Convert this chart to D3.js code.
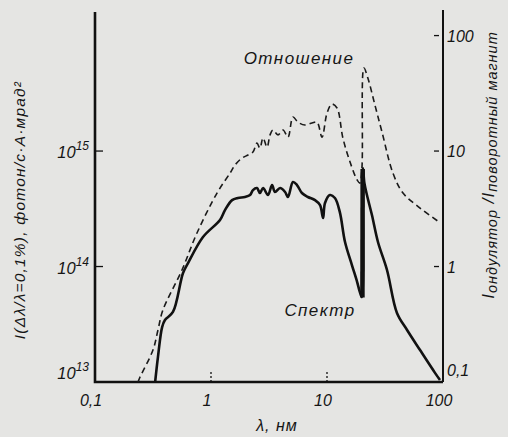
<!DOCTYPE html>
<meta charset="utf-8">
<style>
body { margin: 0; background: #e5e5e3; }
svg { display: block; }
text { font-family: "Liberation Sans", Arial, sans-serif; font-style: italic; fill: #151515; }
.frame { stroke: #111; fill: none; }
</style>
<body>
<div id="chart"></div>
<script src="https://cdn.jsdelivr.net/npm/d3@7"></script>
<script>

// spectrum (left axis, photons / s·A·mrad^2)
var specLam = [0.330, 0.349, 0.379, 0.401, 0.470, 0.574, 0.634, 0.853, 1.196, 1.32, 1.52, 1.71, 1.96, 2.17, 2.30, 2.49, 2.64, 2.81, 3.10, 3.36, 3.56, 3.94, 4.35, 4.61, 5.09, 5.51, 6.08, 6.85, 7.88, 8.71, 9.25, 9.61, 10.6, 11.7, 12.9, 14.3, 16.4, 18.2, 19.2, 20.0, 20.4, 21.0, 22.1, 24.4, 27.5, 32.9, 40.1, 49.0, 63.4, 85.3, 94.2];
var specVal = [1.0e13, 1.65e13, 2.99e13, 3.44e13, 4.04e13, 8.79e13, 1.07e14, 1.80e14, 2.53e14, 3.08e14, 3.76e14, 3.92e14, 4.0e14, 4.16e14, 4.59e14, 4.78e14, 4.33e14, 4.78e14, 4.16e14, 5.08e14, 4.42e14, 4.78e14, 4.42e14, 4.0e14, 5.39e14, 5.08e14, 4.33e14, 4.0e14, 3.76e14, 3.40e14, 2.63e14, 3.55e14, 4.16e14, 3.92e14, 2.96e14, 1.63e14, 1.03e14, 7.34e13, 6.01e13, 5.44e13, 7.13e14, 5.3e14, 4.16e14, 2.79e14, 1.63e14, 9.33e13, 3.96e13, 2.82e13, 1.89e13, 1.20e13, 1.04e13];

// narrow line near 20 nm
var lineLam = [20.2, 20.3];
var lineVal = [5.4e13, 7.0e14];

// ratio undulator / bending magnet (right axis)
var ratioLam = [0.235, 0.244, 0.316, 0.349, 0.385, 0.562, 0.757, 1.127, 1.46, 1.61, 1.85, 2.08, 2.30, 2.49, 2.64, 2.81, 3.04, 3.23, 3.42, 3.78, 4.18, 4.61, 5.09, 5.62, 6.46, 7.43, 8.20, 9.06, 10.0, 11.0, 12.2, 13.7, 15.8, 18.2, 19.2, 20.0, 20.8, 22.5, 25.9, 29.8, 37.0, 45.2, 63.4, 94.2];
var ratioVal = [0.100, 0.110, 0.189, 0.282, 0.420, 0.933, 1.95, 4.33, 6.45, 7.57, 8.69, 9.23, 9.80, 11.7, 10.6, 13.0, 10.8, 13.8, 15.2, 13.8, 15.2, 13.2, 19.7, 17.8, 16.8, 17.5, 17.8, 13.2, 21.3, 25.5, 23.6, 13.0, 8.03, 5.61, 5.28, 7.13, 52.3, 42.9, 25.0, 14.6, 6.45, 4.33, 3.21, 2.4];

var xTicks = [0.1, 1, 10, 100];
var xTickLabels = ["0,1", "1", "10", "100"];
var leftTicks = [1e13, 1e14, 1e15];
var leftTickExp = ["13", "14", "15"];
var rightTicks = [0.1, 1, 10, 100];
var rightTickLabels = ["0,1", "1", "10", "100"];

var width = 508, height = 437;
var x0 = 95, x1 = 443, yb = 382, yt = 12;

var x = d3.scaleLog().domain([0.1, 100]).range([x0, x1]);
var yL = d3.scaleLog().domain([1e13, 1.6e16]).range([yb, yt]);
var yR = d3.scaleLog().domain([0.1, 160]).range([yb, yt]);

var svg = d3.select("#chart").append("svg")
  .attr("width", width)
  .attr("height", height);

// frame: left, bottom, right axes
svg.append("path").attr("class", "frame")
  .attr("stroke-width", 2.6)
  .attr("d", "M" + x0 + "," + yt + "V" + yb + "H" + x1);
svg.append("path").attr("class", "frame")
  .attr("stroke-width", 2)
  .attr("d", "M" + x1 + "," + (yt - 2) + "V" + yb);

// left ticks (inward)
leftTicks.forEach(function(v, i) {
  if (i > 0) {
    svg.append("line").attr("class", "frame").attr("stroke-width", 1.3)
      .attr("x1", x0).attr("x2", x0 + 8).attr("y1", yL(v)).attr("y2", yL(v));
  }
  var t = svg.append("text")
    .attr("x", 89).attr("y", (i == 0 ? yL(v) - 10 : yL(v)) + 7)
    .attr("text-anchor", "end").attr("font-size", 16.5);
  t.append("tspan").text("10");
  t.append("tspan").attr("dy", -8).attr("font-size", 12).text(leftTickExp[i]);
});

// right ticks (inward)
rightTicks.forEach(function(v, i) {
  if (i > 0) {
    svg.append("line").attr("class", "frame").attr("stroke-width", 1.3)
      .attr("x1", x1 - 9).attr("x2", x1 - 4).attr("y1", yR(v)).attr("y2", yR(v));
  }
  svg.append("text")
    .attr("x", x1 + 4).attr("y", (i == 0 ? yR(v) - 12 : yR(v)) + 6)
    .attr("font-size", 16)
    .text(rightTickLabels[i]);
});

// x ticks
xTicks.forEach(function(v, i) {
  if (i == 1 || i == 2) {
    svg.append("line").attr("class", "frame").attr("stroke-width", 1.3)
      .attr("stroke-dasharray", "2,2")
      .attr("x1", x(v)).attr("x2", x(v)).attr("y1", yb - 10).attr("y2", yb);
  }
  svg.append("text")
    .attr("x", x(v) - 4).attr("y", 406)
    .attr("text-anchor", "middle").attr("font-size", 16)
    .text(xTickLabels[i]);
});

// x axis label
svg.append("text")
  .attr("x", 277).attr("y", 431)
  .attr("text-anchor", "middle").attr("font-size", 16)
  .attr("letter-spacing", 1)
  .text("λ, нм");

// left axis label
svg.append("text")
  .attr("transform", "translate(25,210) rotate(-90)")
  .attr("text-anchor", "middle").attr("font-size", 15.5)
  .attr("letter-spacing", 1.2)
  .text("I(Δλ/λ=0,1%),    фотон/с·А·мрад²");

// right axis label
var rl = svg.append("text")
  .attr("transform", "translate(494,165) rotate(-90)")
  .attr("text-anchor", "middle").attr("font-size", 17)
  .attr("letter-spacing", 1);
rl.append("tspan").text("I");
rl.append("tspan").attr("font-size", 14.5).attr("dy", 3).text("ондулятор");
rl.append("tspan").attr("dy", -3).text(" /I");
rl.append("tspan").attr("font-size", 14.5).attr("dy", 3).text("поворотный магнит");

// curves
var spec = specLam.map(function(d, i) { return [d, specVal[i]]; });
var ratio = ratioLam.map(function(d, i) { return [d, ratioVal[i]]; });
var line20 = lineLam.map(function(d, i) { return [d, lineVal[i]]; });

var lineL = d3.line().x(function(d) { return x(d[0]); }).y(function(d) { return yL(d[1]); })
  .curve(d3.curveCatmullRom.alpha(0.5));
var lineR = d3.line().x(function(d) { return x(d[0]); }).y(function(d) { return yR(d[1]); })
  .curve(d3.curveCatmullRom.alpha(0.5));

svg.append("path")
  .attr("d", lineR(ratio))
  .attr("fill", "none").attr("stroke", "#1a1a1a")
  .attr("stroke-width", 1.6)
  .attr("stroke-dasharray", "6,4");

svg.append("path")
  .attr("d", lineL(spec))
  .attr("fill", "none").attr("stroke", "#111")
  .attr("stroke-width", 2.6)
  .attr("stroke-linejoin", "round");

svg.append("path")
  .attr("d", d3.line().x(function(d) { return x(d[0]); }).y(function(d) { return yL(d[1]); })(line20))
  .attr("fill", "none").attr("stroke", "#111")
  .attr("stroke-width", 4.5);

// curve labels
svg.append("text")
  .attr("x", 299).attr("y", 64)
  .attr("text-anchor", "middle").attr("font-size", 17)
  .attr("letter-spacing", 1.4)
  .text("Отношение");

svg.append("text")
  .attr("x", 320).attr("y", 316)
  .attr("text-anchor", "middle").attr("font-size", 17)
  .attr("letter-spacing", 1.4)
  .text("Спектр");

</script>
</body>
</html>
